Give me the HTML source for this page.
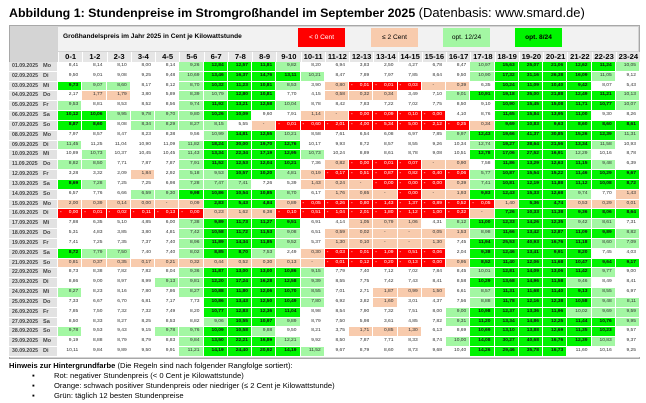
<!DOCTYPE html>
<html><head><meta charset="utf-8">
<style>
*{margin:0;padding:0;box-sizing:border-box}
body{width:646px;height:403px;background:#fff;font-family:"Liberation Sans",Arial,sans-serif;position:relative;overflow:hidden;color:#000}
.title{position:absolute;left:9px;top:5px;font-size:12.4px;white-space:nowrap}
.title b{font-weight:bold}
.title span{font-size:13px}
.frame{position:absolute;left:9px;top:25px;width:631px;height:334px;background:#d4d4d4;border:1px solid #a8a8a8}
.hdr{position:absolute;left:58px;top:27px;width:580px;height:24px;background:#f2f2f2}
.hdr .t{position:absolute;left:5px;top:6px;font-size:6.6px;font-weight:bold}
.lg{position:absolute;top:1px;height:19px;width:47px;font-size:6.6px;text-align:center;line-height:19px}
.hours{position:absolute;left:58px;top:52px;width:582px;height:10px;display:grid;grid-template-columns:repeat(24,1fr);background:#e6e6e6}
.hours span{font-size:7.6px;font-weight:bold;text-align:center;line-height:10px;border-left:1px solid #fff}
.grid{position:absolute;left:9px;top:62px;width:631px;display:grid;grid-template-columns:33px 16px repeat(24,1fr);grid-auto-rows:9.84px}
.grid i{font-style:normal;font-size:4.9px;line-height:8.8px;text-align:right;padding-right:3px;border-right:1px solid #fff;border-bottom:1px solid #fff;color:#333;display:flex;justify-content:flex-end;background:#fff}
.grid i.d{background:#e2e2e2;justify-content:flex-start;padding-left:3px;font-weight:bold;color:#444;font-size:5.2px;border-right:none}
.grid i.y{background:#e2e2e2;justify-content:flex-start;padding-left:1px;font-weight:bold;color:#444;font-size:5.6px}
.grid i.l{background:#a3f7a3}
.grid i.g{background:#00f400;font-weight:bold;color:#111}
.grid i.o{background:#f8cbad}
.grid i.r{background:#ff0000;color:#fff;justify-content:space-between;padding-left:2px}
.grid i.o.c{justify-content:center;padding:0}
.note{position:absolute;left:9px;top:361px;font-size:7.6px;white-space:nowrap}
.bl{position:absolute;left:32px;font-size:7.6px;white-space:nowrap}
.bl span{position:absolute;left:22px}
</style></head><body>
<div class="title"><b>Abbildung 1: Stundenpreise im Stromgroßhandel im September 2025</b> <span>(Datenbasis: www.smard.de)</span></div>
<div class="frame"></div>
<div class="hdr"><div class="t">Großhandelspreis im Jahr 2025 in Cent je Kilowattstunde</div>
<div class="lg" style="left:240px;background:#ff0000;color:#fff">&lt; 0 Cent</div>
<div class="lg" style="left:313px;background:#f8cbad">≤ 2 Cent</div>
<div class="lg" style="left:385px;background:#a3f7a3">opt. 12/24</div>
<div class="lg" style="left:457px;background:#00f400;font-weight:bold">opt. 8/24</div>
</div>
<div class="hours"><span>0-1</span><span>1-2</span><span>2-3</span><span>3-4</span><span>4-5</span><span>5-6</span><span>6-7</span><span>7-8</span><span>8-9</span><span>9-10</span><span>10-11</span><span>11-12</span><span>12-13</span><span>13-14</span><span>14-15</span><span>15-16</span><span>16-17</span><span>17-18</span><span>18-19</span><span>19-20</span><span>20-21</span><span>21-22</span><span>22-23</span><span>23-24</span></div>
<div class="grid">
<i class="d">01.09.2025</i><i class="y">Mo</i><i>8,41</i><i>8,14</i><i>8,10</i><i>8,00</i><i>8,14</i><i class="l">9,26</i><i class="g">12,84</i><i class="g">12,57</i><i class="g">11,81</i><i class="l">9,82</i><i>8,20</i><i>6,94</i><i>3,83</i><i>2,50</i><i>4,27</i><i>6,78</i><i>8,47</i><i class="l">10,97</i><i class="g">15,63</i><i class="g">25,07</i><i class="g">21,06</i><i class="g">12,62</i><i class="g">11,24</i><i class="l">10,05</i>
<i class="d">02.09.2025</i><i class="y">Di</i><i>9,50</i><i>9,01</i><i>9,08</i><i>9,25</i><i>9,48</i><i class="l">10,69</i><i class="g">13,46</i><i class="g">16,37</i><i class="g">14,76</i><i class="g">13,11</i><i class="l">10,21</i><i>8,47</i><i>7,89</i><i>7,97</i><i>7,85</i><i>8,64</i><i>9,50</i><i class="l">10,90</i><i class="g">17,32</i><i class="g">31,16</i><i class="g">26,38</i><i class="g">16,09</i><i class="l">11,05</i><i>9,12</i>
<i class="d">03.09.2025</i><i class="y">Mi</i><i class="g">9,73</i><i class="l">9,07</i><i class="l">8,60</i><i>8,17</i><i>8,12</i><i class="l">8,70</i><i class="g">10,32</i><i class="g">11,23</i><i class="g">10,81</i><i class="l">8,53</i><i>3,90</i><i class="o">0,80</i><i class="r"><b>-</b>0,01</i><i class="r"><b>-</b>0,01</i><i class="r"><b>-</b>0,03</i><i class="o c">-</i><i class="o">0,39</i><i>6,35</i><i class="g">10,24</i><i class="g">11,09</i><i class="g">10,40</i><i class="g">9,42</i><i>8,07</i><i>5,43</i>
<i class="d">04.09.2025</i><i class="y">Do</i><i>2,17</i><i class="o">1,77</i><i class="o">1,79</i><i>3,80</i><i>5,89</i><i class="l">8,39</i><i class="l">10,79</i><i class="g">12,80</i><i class="g">10,81</i><i>7,70</i><i>4,15</i><i class="o">0,58</i><i class="o">0,32</i><i class="o">0,34</i><i>3,49</i><i>7,10</i><i class="l">9,01</i><i class="g">10,91</i><i class="g">19,18</i><i class="g">35,00</i><i class="g">21,88</i><i class="g">12,49</i><i class="g">11,21</i><i class="l">10,13</i>
<i class="d">05.09.2025</i><i class="y">Fr</i><i class="l">9,53</i><i>8,81</i><i>8,53</i><i>8,52</i><i>8,56</i><i class="l">9,74</i><i class="g">11,92</i><i class="g">13,21</i><i class="g">12,58</i><i class="l">10,04</i><i>8,78</i><i>8,42</i><i>7,83</i><i>7,22</i><i>7,02</i><i>7,75</i><i>8,50</i><i>9,10</i><i class="g">10,90</i><i class="g">15,45</i><i class="g">15,08</i><i class="g">11,71</i><i class="g">10,77</i><i class="l">10,07</i>
<i class="d">06.09.2025</i><i class="y">Sa</i><i class="g">10,12</i><i class="g">10,06</i><i class="l">9,95</i><i class="l">9,78</i><i class="l">9,70</i><i class="l">9,80</i><i class="g">10,26</i><i class="g">10,09</i><i>9,60</i><i>7,91</i><i class="o">1,14</i><i class="o c">-</i><i class="r"><b>-</b>0,00</i><i class="r"><b>-</b>0,09</i><i class="r"><b>-</b>0,10</i><i class="r"><b>-</b>0,00</i><i>4,10</i><i>8,76</i><i class="g">11,65</i><i class="g">15,84</i><i class="g">13,95</i><i class="g">11,00</i><i>9,30</i><i>8,26</i>
<i class="d">07.09.2025</i><i class="y">So</i><i class="g">8,87</i><i class="g">8,60</i><i>8,08</i><i class="l">8,34</i><i class="l">8,29</i><i class="l">8,27</i><i class="l">8,15</i><i>5,55</i><i class="o c">-</i><i class="r"><b>-</b>0,01</i><i class="r"><b>-</b>0,60</i><i class="r"><b>-</b>2,01</i><i class="r"><b>-</b>4,00</i><i class="r"><b>-</b>5,34</i><i class="r"><b>-</b>5,00</i><i class="r"><b>-</b>2,12</i><i class="r"><b>-</b>0,25</i><i class="o">0,34</i><i class="g">9,69</i><i class="g">10,83</i><i class="g">9,63</i><i class="g">8,60</i><i class="g">8,60</i><i class="g">8,61</i>
<i class="d">08.09.2025</i><i class="y">Mo</i><i>7,97</i><i>8,57</i><i>8,47</i><i>8,23</i><i>8,38</i><i>9,56</i><i class="l">10,99</i><i class="g">14,81</i><i class="g">12,55</i><i class="l">10,21</i><i>8,58</i><i>7,61</i><i>6,54</i><i>6,08</i><i>6,97</i><i>7,85</i><i class="l">9,97</i><i class="g">12,43</i><i class="g">19,66</i><i class="g">41,37</i><i class="g">30,85</i><i class="g">15,26</i><i class="g">12,39</i><i class="l">11,31</i>
<i class="d">09.09.2025</i><i class="y">Di</i><i class="l">11,45</i><i>11,25</i><i>11,04</i><i>10,90</i><i>11,09</i><i class="l">11,82</i><i class="g">18,24</i><i class="g">30,00</i><i class="g">19,70</i><i class="g">12,76</i><i>10,17</i><i>9,93</i><i>8,72</i><i>8,57</i><i>8,55</i><i>9,26</i><i>10,34</i><i class="l">12,74</i><i class="g">19,27</i><i class="g">38,64</i><i class="g">21,56</i><i class="g">13,34</i><i class="l">11,58</i><i>10,93</i>
<i class="d">10.09.2025</i><i class="y">Mi</i><i>10,89</i><i class="l">10,73</i><i>10,37</i><i>10,45</i><i>10,45</i><i class="l">11,43</i><i class="g">13,34</i><i class="g">22,34</i><i class="g">17,19</i><i class="g">12,95</i><i class="l">10,73</i><i>10,24</i><i>8,89</i><i>8,61</i><i>8,78</i><i>9,08</i><i>10,51</i><i class="g">12,78</i><i class="g">17,06</i><i class="g">27,52</i><i class="g">16,91</i><i class="l">12,29</i><i>10,16</i><i>8,78</i>
<i class="d">11.09.2025</i><i class="y">Do</i><i class="l">8,82</i><i class="l">8,50</i><i>7,71</i><i>7,87</i><i>7,87</i><i class="l">7,91</i><i class="g">11,52</i><i class="g">12,53</i><i class="g">12,04</i><i class="g">10,21</i><i>7,36</i><i class="o">0,82</i><i class="r"><b>-</b>0,00</i><i class="r"><b>-</b>0,01</i><i class="r"><b>-</b>0,07</i><i class="o c">-</i><i class="o">0,90</i><i>7,58</i><i class="g">11,86</i><i class="g">13,29</i><i class="g">12,63</i><i class="g">11,15</i><i class="l">9,48</i><i>6,39</i>
<i class="d">12.09.2025</i><i class="y">Fr</i><i>3,28</i><i>3,32</i><i>2,09</i><i class="o">1,84</i><i>2,92</i><i class="l">5,18</i><i class="l">9,53</i><i class="g">10,57</i><i class="g">10,20</i><i class="l">4,81</i><i class="o">0,19</i><i class="r"><b>-</b>0,17</i><i class="r"><b>-</b>0,51</i><i class="r"><b>-</b>0,87</i><i class="r"><b>-</b>0,82</i><i class="r"><b>-</b>0,40</i><i class="r"><b>-</b>0,06</i><i class="l">5,77</i><i class="g">10,87</i><i class="g">15,54</i><i class="g">15,22</i><i class="g">11,46</i><i class="g">10,29</i><i class="g">9,67</i>
<i class="d">13.09.2025</i><i class="y">Sa</i><i class="g">8,69</i><i class="l">7,28</i><i>7,25</i><i>7,25</i><i>6,98</i><i class="l">7,28</i><i class="l">7,47</i><i class="l">7,41</i><i>7,26</i><i>5,39</i><i class="o">1,43</i><i class="o">0,24</i><i class="o c">-</i><i class="r"><b>-</b>0,00</i><i class="r"><b>-</b>0,00</i><i class="r"><b>-</b>0,00</i><i class="o">0,39</i><i class="l">7,41</i><i class="g">10,81</i><i class="g">12,19</i><i class="g">11,88</i><i class="g">11,12</i><i class="g">10,08</i><i class="g">8,72</i>
<i class="d">14.09.2025</i><i class="y">So</i><i>6,57</i><i>7,76</i><i>6,66</i><i class="l">6,59</i><i class="l">9,30</i><i class="g">9,98</i><i class="g">10,86</i><i class="g">10,54</i><i class="g">10,85</i><i class="l">8,70</i><i>6,17</i><i class="o">1,76</i><i class="o">0,65</i><i class="o c">-</i><i class="r"><b>-</b>0,00</i><i class="o c">-</i><i class="o">1,93</i><i class="g">9,83</i><i class="g">12,43</i><i class="g">15,33</i><i class="g">12,68</i><i class="l">9,74</i><i>7,70</i><i class="o">1,43</i>
<i class="d">15.09.2025</i><i class="y">Mo</i><i class="o">2,00</i><i class="o">0,39</i><i class="o">0,14</i><i class="o">0,00</i><i class="o c">-</i><i class="o">0,09</i><i class="g">2,83</i><i class="g">5,43</i><i class="g">4,84</i><i class="o">0,89</i><i class="r"><b>-</b>0,05</i><i class="r"><b>-</b>0,26</i><i class="r"><b>-</b>0,80</i><i class="r"><b>-</b>1,43</i><i class="r"><b>-</b>1,37</i><i class="r"><b>-</b>0,89</i><i class="r"><b>-</b>0,52</i><i class="r"><b>-</b>0,05</i><i class="o">1,40</i><i class="g">5,36</i><i class="g">4,74</i><i class="o">0,53</i><i class="o">0,29</i><i class="o">0,01</i>
<i class="d">16.09.2025</i><i class="y">Di</i><i class="r"><b>-</b>0,00</i><i class="r"><b>-</b>0,01</i><i class="r"><b>-</b>0,02</i><i class="r"><b>-</b>0,11</i><i class="r"><b>-</b>0,13</i><i class="r"><b>-</b>0,00</i><i class="o">0,23</i><i class="o">1,62</i><i class="o">6,38</i><i class="r"><b>-</b>0,10</i><i class="r"><b>-</b>0,51</i><i class="r"><b>-</b>1,04</i><i class="r"><b>-</b>2,01</i><i class="r"><b>-</b>1,80</i><i class="r"><b>-</b>1,12</i><i class="r"><b>-</b>1,00</i><i class="r"><b>-</b>0,32</i><i class="o c">-</i><i class="g">7,26</i><i class="g">10,33</i><i class="g">11,38</i><i class="g">9,36</i><i class="g">8,06</i><i class="g">8,64</i>
<i class="d">17.09.2025</i><i class="y">Mi</i><i>7,88</i><i>6,35</i><i>5,10</i><i>4,85</i><i>6,00</i><i class="l">7,38</i><i class="g">9,89</i><i class="g">11,73</i><i class="g">11,27</i><i class="g">9,51</i><i>6,91</i><i>4,14</i><i class="o">1,05</i><i class="o">0,79</i><i class="o">1,06</i><i>4,31</i><i class="l">8,12</i><i class="g">11,00</i><i class="g">12,33</i><i class="g">14,26</i><i class="g">12,35</i><i class="l">9,42</i><i class="l">8,61</i><i>7,31</i>
<i class="d">18.09.2025</i><i class="y">Do</i><i>5,31</i><i>4,83</i><i>3,85</i><i>3,80</i><i>4,81</i><i class="l">7,42</i><i class="g">10,58</i><i class="g">11,72</i><i class="g">11,53</i><i class="l">9,08</i><i>6,51</i><i class="o">0,59</i><i class="o">0,02</i><i class="o c">-</i><i class="o c">-</i><i class="o">0,05</i><i class="o">1,53</i><i class="l">8,98</i><i class="g">11,66</i><i class="g">13,42</i><i class="g">12,87</i><i class="g">11,09</i><i class="g">9,89</i><i class="l">8,82</i>
<i class="d">19.09.2025</i><i class="y">Fr</i><i>7,41</i><i>7,25</i><i>7,35</i><i>7,37</i><i>7,40</i><i class="l">8,96</i><i class="g">11,89</i><i class="g">14,34</i><i class="g">11,85</i><i class="l">9,52</i><i>5,37</i><i class="o">1,30</i><i class="o">0,10</i><i class="o c">-</i><i class="o c">-</i><i class="o">1,30</i><i>7,45</i><i class="g">11,94</i><i class="g">25,53</i><i class="g">40,93</i><i class="g">16,76</i><i class="g">11,18</i><i class="l">8,60</i><i class="l">7,09</i>
<i class="d">20.09.2025</i><i class="y">Sa</i><i class="g">8,72</i><i class="l">7,79</i><i class="l">7,50</i><i>7,40</i><i>7,40</i><i class="l">8,02</i><i class="g">8,85</i><i class="g">8,70</i><i class="l">7,53</i><i>2,49</i><i class="o">0,30</i><i class="r"><b>-</b>0,03</i><i class="r"><b>-</b>0,01</i><i class="r"><b>-</b>1,09</i><i class="r"><b>-</b>0,51</i><i class="r"><b>-</b>0,06</i><i>2,04</i><i class="g">9,38</i><i class="g">12,46</i><i class="g">13,41</i><i class="g">9,91</i><i class="g">8,20</i><i>7,45</i><i>4,03</i>
<i class="d">21.09.2025</i><i class="y">So</i><i class="o">0,81</i><i class="o">0,37</i><i class="o">0,35</i><i class="o">0,17</i><i class="o">0,21</i><i class="o">0,32</i><i class="o">0,44</i><i class="o">0,52</i><i class="o">0,30</i><i class="o">0,13</i><i class="o c">-</i><i class="r"><b>-</b>0,01</i><i class="r"><b>-</b>0,12</i><i class="r"><b>-</b>0,20</i><i class="r"><b>-</b>0,13</i><i class="r"><b>-</b>0,00</i><i class="o">0,95</i><i class="g">8,52</i><i class="g">11,40</i><i class="g">12,06</i><i class="g">11,68</i><i class="g">10,47</i><i class="g">9,64</i><i class="g">9,17</i>
<i class="d">22.09.2025</i><i class="y">Mo</i><i>8,73</i><i>8,38</i><i>7,82</i><i>7,82</i><i>8,04</i><i class="l">9,36</i><i class="g">11,87</i><i class="g">13,00</i><i class="g">13,00</i><i class="g">10,86</i><i class="l">9,15</i><i>7,79</i><i>7,40</i><i>7,12</i><i>7,02</i><i>7,84</i><i>8,45</i><i class="l">10,01</i><i class="g">12,81</i><i class="g">14,09</i><i class="g">13,06</i><i class="g">11,42</i><i class="l">9,77</i><i>9,00</i>
<i class="d">23.09.2025</i><i class="y">Di</i><i>8,86</i><i>9,00</i><i>8,97</i><i>8,99</i><i class="l">9,13</i><i class="l">9,81</i><i class="g">12,20</i><i class="g">17,24</i><i class="g">16,28</i><i class="g">12,58</i><i class="l">9,39</i><i>8,55</i><i>7,75</i><i>7,42</i><i>7,43</i><i>8,41</i><i>8,58</i><i class="g">10,29</i><i class="g">13,68</i><i class="g">14,96</i><i class="g">11,58</i><i class="l">9,46</i><i>8,49</i><i>8,41</i>
<i class="d">24.09.2025</i><i class="y">Mi</i><i class="l">8,27</i><i>8,23</i><i>8,16</i><i>7,80</i><i>7,86</i><i class="l">8,27</i><i class="g">10,88</i><i class="g">11,80</i><i class="g">12,06</i><i class="g">10,70</i><i class="l">8,55</i><i>7,01</i><i>2,71</i><i class="o">1,87</i><i class="o">0,99</i><i class="o">1,50</i><i>6,61</i><i class="l">8,57</i><i class="g">11,31</i><i class="g">11,68</i><i class="g">11,40</i><i class="g">9,13</i><i class="l">8,55</i><i>6,97</i>
<i class="d">25.09.2025</i><i class="y">Do</i><i>7,33</i><i>6,67</i><i>6,70</i><i>6,81</i><i>7,17</i><i>7,73</i><i class="g">10,86</i><i class="g">13,43</i><i class="g">12,50</i><i class="g">10,49</i><i class="l">7,80</i><i>6,92</i><i>3,82</i><i class="o">1,60</i><i>3,01</i><i>4,37</i><i>7,56</i><i class="l">8,88</i><i class="g">11,78</i><i class="g">12,16</i><i class="g">12,38</i><i class="g">10,58</i><i class="l">9,48</i><i class="l">8,11</i>
<i class="d">26.09.2025</i><i class="y">Fr</i><i>7,85</i><i>7,50</i><i>7,32</i><i>7,32</i><i>7,49</i><i>8,20</i><i class="g">10,77</i><i class="g">12,83</i><i class="g">12,36</i><i class="g">11,04</i><i>8,98</i><i>8,54</i><i>7,90</i><i>7,32</i><i>7,51</i><i>8,00</i><i class="l">9,00</i><i class="g">10,98</i><i class="g">12,37</i><i class="g">13,36</i><i class="g">11,96</i><i class="l">10,02</i><i class="l">9,69</i><i class="l">9,59</i>
<i class="d">27.09.2025</i><i class="y">Sa</i><i>8,50</i><i>8,33</i><i>8,27</i><i>8,25</i><i>8,53</i><i>8,82</i><i class="l">9,06</i><i class="g">10,55</i><i class="g">10,97</i><i class="l">9,89</i><i>8,79</i><i>7,50</i><i>5,98</i><i>3,61</i><i>4,85</i><i>7,82</i><i class="l">9,31</i><i class="g">11,20</i><i class="g">13,34</i><i class="g">14,86</i><i class="g">12,25</i><i class="g">11,44</i><i class="g">10,76</i><i class="l">9,95</i>
<i class="d">28.09.2025</i><i class="y">So</i><i class="l">9,78</i><i>9,53</i><i>9,43</i><i>9,15</i><i class="l">9,78</i><i class="l">9,76</i><i class="g">10,09</i><i class="g">10,58</i><i class="l">9,88</i><i>9,50</i><i>8,21</i><i>3,75</i><i class="o">1,71</i><i class="o">0,85</i><i class="o">1,30</i><i>6,13</i><i>8,69</i><i class="g">10,69</i><i class="g">13,10</i><i class="g">13,88</i><i class="g">12,69</i><i class="g">11,35</i><i class="g">10,23</i><i>9,57</i>
<i class="d">29.09.2025</i><i class="y">Mo</i><i>9,19</i><i>8,88</i><i>8,79</i><i>8,79</i><i>8,83</i><i class="l">9,84</i><i class="g">13,50</i><i class="g">22,21</i><i class="g">16,89</i><i class="l">12,21</i><i>9,92</i><i>8,50</i><i>7,87</i><i>7,71</i><i>8,33</i><i>8,74</i><i class="l">10,00</i><i class="g">14,08</i><i class="g">30,27</i><i class="g">40,68</i><i class="g">16,76</i><i class="g">12,39</i><i class="l">10,83</i><i>9,37</i>
<i class="d">30.09.2025</i><i class="y">Di</i><i>10,11</i><i>9,84</i><i>9,89</i><i>9,50</i><i>9,91</i><i class="l">11,21</i><i class="g">14,19</i><i class="g">24,40</i><i class="g">20,92</i><i class="g">14,19</i><i class="l">11,52</i><i>9,67</i><i>8,79</i><i>8,60</i><i>8,73</i><i>9,68</i><i>10,40</i><i class="g">14,26</i><i class="g">29,46</i><i class="g">35,78</i><i class="g">16,73</i><i>11,60</i><i>10,16</i><i>9,25</i>
</div>
<div class="note"><b>Hinweis zur Hintergrundfarbe</b> (Die Regeln sind nach folgender Rangfolge sortiert):</div>
<div class="bl" style="top:371px">▪<span>Rot: negativer Stundenpreis (&lt; 0 Cent je Kilowattstunde)</span></div>
<div class="bl" style="top:381px">▪<span>Orange: schwach positiver Stundenpreis oder niedriger (≤ 2 Cent je Kilowattstunde)</span></div>
<div class="bl" style="top:391px">▪<span>Grün: täglich 12 besten Stundenpreise</span></div>
</body></html>
